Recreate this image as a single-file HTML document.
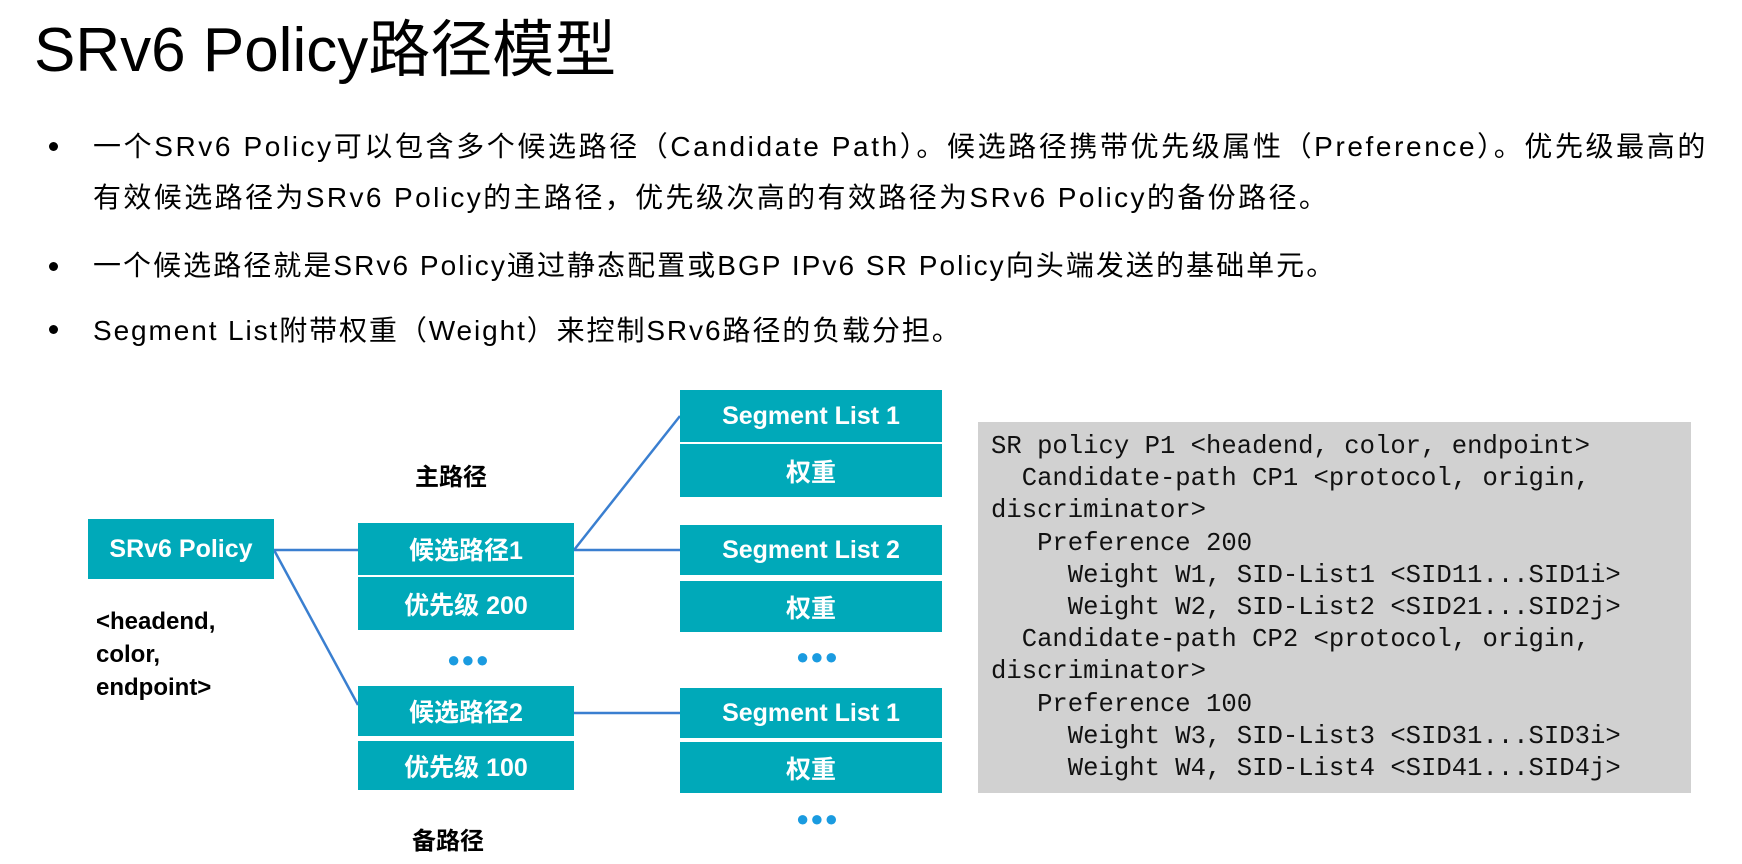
<!DOCTYPE html>
<html><head><meta charset="utf-8"><style>
body{margin:0;width:1742px;height:864px;background:#fff;position:relative;overflow:hidden;font-family:"Liberation Sans","Noto Sans CJK SC",sans-serif;color:#000}
.a{position:absolute;white-space:nowrap}
.t{font-size:28px;line-height:34px;letter-spacing:2.6px}
.dot{position:absolute;width:9px;height:9px;border-radius:50%;background:#000}
.b{position:absolute;background:#00a9b9;color:#fff;font-weight:bold;font-size:25px;display:flex;align-items:center;justify-content:center}
.d{position:absolute;color:#1a9be0;font-size:22px;font-weight:bold;letter-spacing:1px}
.lbl{position:absolute;font-weight:bold;font-size:24px}
pre{position:absolute;left:978px;top:422px;width:713px;height:371px;margin:0;background:#d1d1d1;box-sizing:border-box;padding:9px 0 0 13px;font-family:"Liberation Mono",monospace;font-size:25.6px;line-height:32.2px;color:#111}
</style></head><body>
<div class="a" style="left:34px;top:17px;font-size:62px;line-height:68px">SRv6 Policy路径模型</div>
<div class="dot" style="left:49px;top:142px"></div>
<div class="a t" style="left:93px;top:130px">一个SRv6 Policy可以包含多个候选路径（Candidate Path）。候选路径携带优先级属性（Preference）。优先级最高的</div>
<div class="a t" style="left:93px;top:181px;letter-spacing:2.4px">有效候选路径为SRv6 Policy的主路径，优先级次高的有效路径为SRv6 Policy的备份路径。</div>
<div class="dot" style="left:49px;top:262px"></div>
<div class="a t" style="left:93px;top:249px;letter-spacing:2.05px">一个候选路径就是SRv6 Policy通过静态配置或BGP IPv6 SR Policy向头端发送的基础单元。</div>
<div class="dot" style="left:49px;top:325px"></div>
<div class="a t" style="left:93px;top:314px;letter-spacing:1.9px">Segment List附带权重（Weight）来控制SRv6路径的负载分担。</div>

<svg class="a" style="left:0;top:0" width="1742" height="864">
<g stroke="#3a7fd0" stroke-width="2.5" fill="none">
<line x1="274" y1="550" x2="358" y2="550"/>
<line x1="274" y1="550" x2="358" y2="705"/>
<line x1="574" y1="550" x2="680" y2="416"/>
<line x1="574" y1="550" x2="680" y2="550"/>
<line x1="574" y1="713" x2="680" y2="713"/>
</g></svg>

<div class="b" style="left:88px;top:519px;width:186px;height:60px">SRv6 Policy</div>
<div class="lbl" style="left:96px;top:605px;line-height:33px">&lt;headend,<br>color,<br>endpoint&gt;</div>
<div class="lbl" style="left:415px;top:457px">主路径</div>
<div class="lbl" style="left:412px;top:821px">备路径</div>

<div class="b" style="left:358px;top:523px;width:216px;height:52px">候选路径1</div>
<div class="b" style="left:358px;top:577px;width:216px;height:53px">优先级 200</div>
<div class="d" style="left:447px;top:647px">●●●</div>
<div class="b" style="left:358px;top:686px;width:216px;height:50px">候选路径2</div>
<div class="b" style="left:358px;top:741px;width:216px;height:49px">优先级 100</div>

<div class="b" style="left:680px;top:390px;width:262px;height:52px">Segment List 1</div>
<div class="b" style="left:680px;top:444px;width:262px;height:53px">权重</div>
<div class="b" style="left:680px;top:525px;width:262px;height:50px">Segment List 2</div>
<div class="b" style="left:680px;top:581px;width:262px;height:51px">权重</div>
<div class="d" style="left:796px;top:644px">●●●</div>
<div class="b" style="left:680px;top:688px;width:262px;height:50px">Segment List 1</div>
<div class="b" style="left:680px;top:742px;width:262px;height:51px">权重</div>
<div class="d" style="left:796px;top:806px">●●●</div>

<pre>SR policy P1 &lt;headend, color, endpoint&gt;
  Candidate-path CP1 &lt;protocol, origin,
discriminator&gt;
   Preference 200
     Weight W1, SID-List1 &lt;SID11...SID1i&gt;
     Weight W2, SID-List2 &lt;SID21...SID2j&gt;
  Candidate-path CP2 &lt;protocol, origin,
discriminator&gt;
   Preference 100
     Weight W3, SID-List3 &lt;SID31...SID3i&gt;
     Weight W4, SID-List4 &lt;SID41...SID4j&gt;</pre>
</body></html>
